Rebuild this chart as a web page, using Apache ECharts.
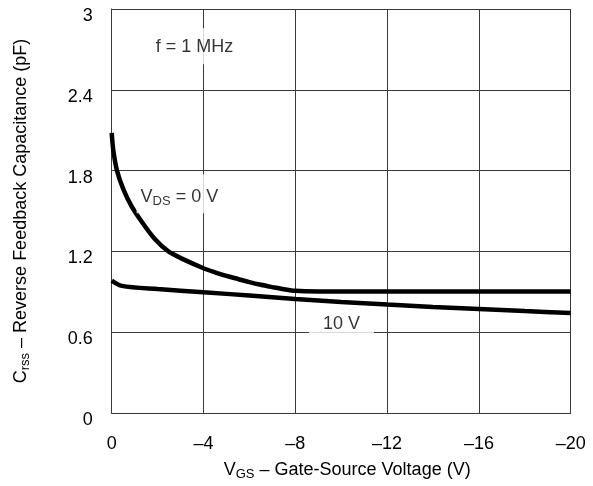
<!DOCTYPE html>
<html><head><meta charset="utf-8">
<script src="https://cdn.jsdelivr.net/npm/echarts@6/dist/echarts.min.js"></script>
<style>html,body{margin:0;padding:0;background:#fff}#c{width:593px;height:486px}</style>
</head><body><div id="c"></div>
<script>
const xTickLabels = ['0','–4','–8','–12','–16','–20'];
const yTickLabels = ['0','0.6','1.2','1.8','2.4','3'];
const vgs0 = [0,-0.07,-0.23,-0.51,-0.85,-1.31,-1.89,-2.47,-3.2,-4.0,-4.5,-5,-5.5,-6,-6.5,-7,-7.5,-8,-9,-12,-16,-20];
const crssVds0 = [2.08,1.95,1.80,1.66,1.54,1.42,1.29,1.20,1.135,1.075,1.045,1.018,0.995,0.972,0.952,0.935,0.919,0.907,0.903,0.903,0.903,0.903];
const vgs10 = [0,-0.44,-2,-4,-6,-8,-10,-12,-14,-16,-18,-20];
const crssVds10 = [0.983,0.944,0.92,0.897,0.872,0.847,0.825,0.805,0.787,0.772,0.757,0.743];
const annotations = [
  {text: '{t|f = 1 MHz}', at: [-3.61, 2.724]},
  {text: '{t|V}{s|DS}{t| = 0 V}', at: [-2.95, 1.629]},
  {text: '{t|10 V}', at: [-10.01, 0.672]}
];
const FONT = '"Liberation Sans", Arial, Helvetica, sans-serif';
const GRIDC = '#3a3a3a';
const rich = {
  t: {fontSize: 18, fontFamily: FONT, color: '#000', lineHeight: 22},
  s: {fontSize: 13, fontFamily: FONT, color: '#000', lineHeight: 13, verticalAlign: 'bottom'}
};
const annPad = [[8,6,6,6],[12,4,5,4],[6,14,3,14]];
const chart = echarts.init(document.getElementById('c'), null, {renderer: 'canvas'});
chart.setOption({
  animation: false,
  grid: {left: 111.7, right: 22.3, top: 9, bottom: 68, containLabel: false},
  xAxis: {
    type: 'value', min: -20, max: 0, interval: 4, inverse: true,
    axisLine: {show: true, onZero: false, lineStyle: {color: GRIDC, width: 1}},
    axisTick: {show: false},
    splitLine: {show: true, lineStyle: {color: GRIDC, width: 1}},
    axisLabel: {
      margin: 22, fontSize: 18, fontFamily: FONT, color: '#000',
      formatter: v => xTickLabels[Math.round(-v / 4)]
    },
    name: '{t|V}{s|GS}{t| – Gate-Source Voltage (V)}',
    nameLocation: 'middle', nameGap: 46,
    nameTextStyle: {rich: rich, padding: [0, 0, 0, 12]}
  },
  yAxis: {
    type: 'value', min: 0, max: 3, interval: 0.6,
    axisLine: {show: true, lineStyle: {color: GRIDC, width: 1}},
    axisTick: {show: false},
    splitLine: {show: true, lineStyle: {color: GRIDC, width: 1}},
    axisLabel: {
      margin: 19, fontSize: 18, fontFamily: FONT, color: '#000',
      verticalAlign: 'top', lineHeight: 14,
      formatter: v => yTickLabels[Math.round(v / 0.6)]
    },
    name: '{t|C}{s|rss}{t| – Reverse Feedback Capacitance (pF)}',
    nameLocation: 'middle', nameGap: 80, nameRotate: 90,
    nameTextStyle: {rich: rich}
  },
  series: [
    {
      type: 'line', name: 'VDS = 0 V', showSymbol: false, smooth: 0.3,
      lineStyle: {color: '#000', width: 4.5}, silent: true, z: 3,
      data: vgs0.map((x, i) => [x, crssVds0[i]])
    },
    {
      type: 'line', name: 'VDS = 10 V', showSymbol: false, smooth: 0.3,
      lineStyle: {color: '#000', width: 4.5}, silent: true, z: 3,
      data: vgs10.map((x, i) => [x, crssVds10[i]])
    },
    {
      type: 'scatter', symbolSize: 0, silent: true, z: 5,
      data: annotations.map((a, i) => ({
        value: a.at,
        label: {
          show: true, position: 'inside', formatter: a.text, rich: rich,
          backgroundColor: '#fff', padding: annPad[i]
        }
      }))
    }
  ]
});
</script></body></html>
